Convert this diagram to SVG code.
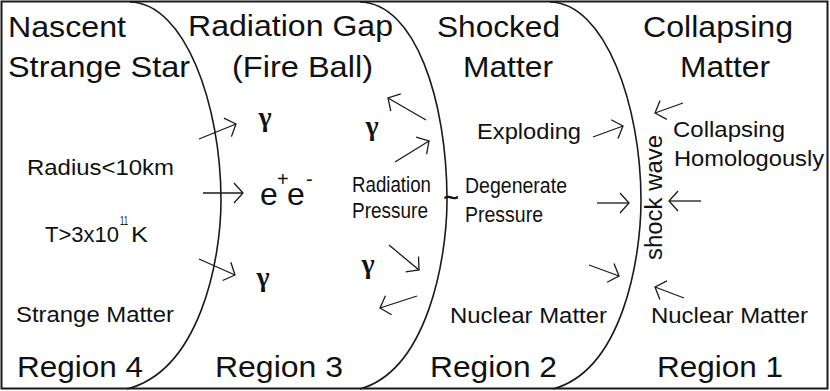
<svg xmlns="http://www.w3.org/2000/svg" width="830" height="391" viewBox="0 0 830 391">
<style>
  text { font-family: "Liberation Sans", Arial, sans-serif; fill: #111; }
  .title { font-size: 29px; }
  .small { font-size: 22px; }
  .gamma { font-family: "Liberation Serif", "Times New Roman", serif; font-size: 28px; font-weight: bold; text-anchor: middle; }
  .bound { fill: none; stroke: #1a1a1a; stroke-width: 1.6; }
  .arrow { fill: none; stroke: #1a1a1a; stroke-width: 1.3; marker-end: url(#ah); }
</style>
<defs>
  <marker id="ah" viewBox="-12 -13 14 26" markerWidth="14" markerHeight="26" refX="0" refY="0" orient="auto" markerUnits="userSpaceOnUse">
    <path d="M-9,-10 L0,0 L-9,10" fill="none" stroke="#1a1a1a" stroke-width="1.3"/>
  </marker>
</defs>
<rect x="1.5" y="1.5" width="826" height="387" fill="#fff" stroke="#1a1a1a" stroke-width="2"/>

<g id="boundaries">
  <path class="bound" d="M130,2 C185,3 221,105 221,200 C221,260 200,370 127,389"/>
  <path class="bound" d="M360,2 C415,3 447,100 447,200 C447,260 427,370 360,389"/>
  <path class="bound" d="M550,2 C605,3 641,105 641,200 C641,260 622,370 553,389"/>
</g>

<g id="region4">
  <text class="title" x="8" y="37" textLength="118" lengthAdjust="spacingAndGlyphs">Nascent</text>
  <text class="title" x="8" y="77" textLength="182" lengthAdjust="spacingAndGlyphs">Strange Star</text>
  <text class="small" x="27" y="175" textLength="147" lengthAdjust="spacingAndGlyphs">Radius&lt;10km</text>
  <text class="small" x="45" y="242" font-size="23" textLength="74" lengthAdjust="spacingAndGlyphs">T&gt;3x10</text>
  <text x="120" y="225" font-size="12" textLength="8" lengthAdjust="spacingAndGlyphs">11</text>
  <text x="131" y="242" font-size="22" textLength="17" lengthAdjust="spacingAndGlyphs">K</text>
  <text class="small" x="16" y="322" textLength="158" lengthAdjust="spacingAndGlyphs">Strange Matter</text>
  <text class="title" x="17" y="377" textLength="126" lengthAdjust="spacingAndGlyphs">Region 4</text>
</g>

<g id="region3">
  <text class="title" x="188" y="36" textLength="205" lengthAdjust="spacingAndGlyphs">Radiation Gap</text>
  <text class="title" x="232" y="77" textLength="141" lengthAdjust="spacingAndGlyphs">(Fire Ball)</text>
  <text class="gamma" x="265" y="126">γ</text>
  <text class="gamma" x="372" y="135">γ</text>
  <text class="gamma" x="263" y="286">γ</text>
  <text class="gamma" x="368" y="273">γ</text>
  <text x="260" y="205" font-size="32">e</text>
  <text x="277" y="186" font-size="20">+</text>
  <text x="287" y="205" font-size="32">e</text>
  <text x="306" y="186" font-size="20">-</text>
  <text class="small" x="352" y="192" font-size="21" textLength="79" lengthAdjust="spacingAndGlyphs">Radiation</text>
  <text class="small" x="352" y="218" font-size="21" textLength="76" lengthAdjust="spacingAndGlyphs">Pressure</text>
  <text class="title" x="215" y="377" textLength="128" lengthAdjust="spacingAndGlyphs">Region 3</text>
</g>

<g id="region2">
  <text x="451" y="206" font-size="26" text-anchor="middle" stroke="#111" stroke-width="0.6">~</text>
  <text class="title" x="437" y="37" textLength="123" lengthAdjust="spacingAndGlyphs">Shocked</text>
  <text class="title" x="463" y="77" textLength="90" lengthAdjust="spacingAndGlyphs">Matter</text>
  <text class="small" x="477" y="139" textLength="104" lengthAdjust="spacingAndGlyphs">Exploding</text>
  <text class="small" x="465" y="193" textLength="102" lengthAdjust="spacingAndGlyphs">Degenerate</text>
  <text class="small" x="465" y="222" textLength="78" lengthAdjust="spacingAndGlyphs">Pressure</text>
  <text class="small" x="450" y="323" textLength="157" lengthAdjust="spacingAndGlyphs">Nuclear Matter</text>
  <text class="title" x="430" y="377" textLength="127" lengthAdjust="spacingAndGlyphs">Region 2</text>
</g>

<g id="shock">
  <text x="0" y="0" font-size="23" transform="translate(662,260) rotate(-90)" textLength="125" lengthAdjust="spacingAndGlyphs">shock wave</text>
</g>

<g id="region1">
  <text class="title" x="643" y="37" textLength="150" lengthAdjust="spacingAndGlyphs">Collapsing</text>
  <text class="title" x="680" y="77" textLength="90" lengthAdjust="spacingAndGlyphs">Matter</text>
  <text class="small" x="673" y="137" textLength="112" lengthAdjust="spacingAndGlyphs">Collapsing</text>
  <text class="small" x="674" y="166" textLength="150" lengthAdjust="spacingAndGlyphs">Homologously</text>
  <text class="small" x="651" y="323" textLength="157" lengthAdjust="spacingAndGlyphs">Nuclear Matter</text>
  <text class="title" x="657" y="377" textLength="126" lengthAdjust="spacingAndGlyphs">Region 1</text>
</g>

<g id="connectors">
  <line class="arrow" x1="199" y1="139" x2="236" y2="124"/>
  <line class="arrow" x1="203" y1="193" x2="243" y2="193"/>
  <line class="arrow" x1="199" y1="259" x2="235" y2="275"/>
  <line class="arrow" x1="426" y1="120" x2="388" y2="98"/>
  <line class="arrow" x1="395" y1="162" x2="429" y2="141"/>
  <line class="arrow" x1="389" y1="245" x2="419" y2="270"/>
  <line class="arrow" x1="417" y1="296" x2="380" y2="308"/>
  <line class="arrow" x1="593" y1="137" x2="623" y2="126"/>
  <line class="arrow" x1="597" y1="203" x2="629" y2="203"/>
  <line class="arrow" x1="589" y1="265" x2="619" y2="276"/>
  <line class="arrow" x1="683" y1="103" x2="655" y2="113"/>
  <line class="arrow" x1="701" y1="201" x2="669" y2="201"/>
  <line class="arrow" x1="684" y1="298" x2="655" y2="287"/>
</g>
</svg>
